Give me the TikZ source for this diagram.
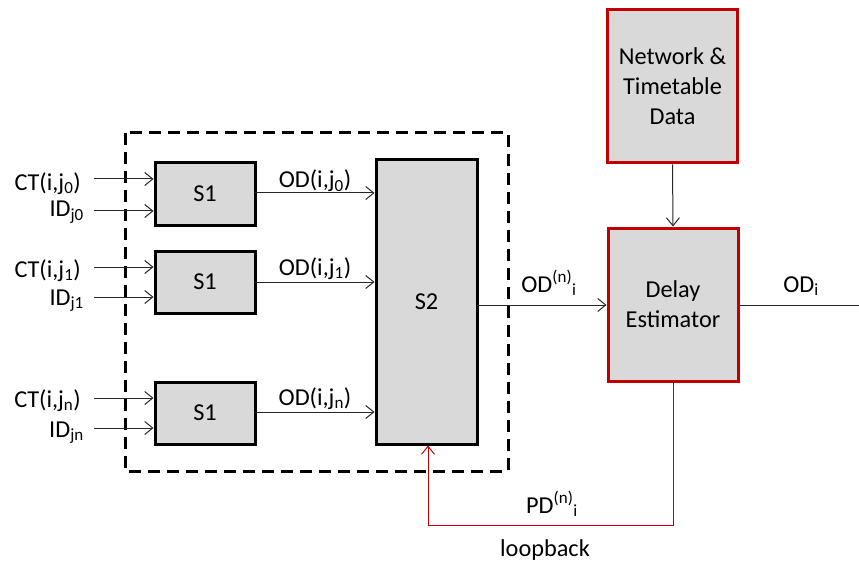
\documentclass[tikz,border=0pt]{standalone}
\usepackage{fontspec}
\setmainfont{Carlito}
\usetikzlibrary{arrows.meta}
\definecolor{boxgray}{HTML}{D9D9D9}
\definecolor{darkred}{HTML}{C00000}
\tikzset{
  blk/.style={draw=black, line width=3pt, fill=boxgray, inner sep=0pt},
  redblk/.style={draw=darkred, line width=3pt, fill=boxgray, inner sep=0pt, align=center},
  conn/.style={draw=black!85, line width=1pt, -{Straight Barb[length=8pt,width=13pt]}},
  plainconn/.style={draw=black!85, line width=1pt},
  loopconn/.style={draw=darkred, line width=1pt, -{Straight Barb[length=8pt,width=13pt]}},
  lbl/.style={inner sep=0pt},
}
\begin{document}
\begin{tikzpicture}[x=1pt,y=-1pt,font=\fontsize{24.3}{30}\selectfont]
\useasboundingbox (0,0) rectangle (859,564);
% dashed container
\draw[line width=3pt, dash pattern=on 12pt off 7pt] (125,133) rectangle (508,471);
% S1 boxes
\node[blk, minimum width=100pt, minimum height=62pt] (s1a) at (205,194) {S1};
\node[blk, minimum width=100pt, minimum height=62pt] (s1b) at (205,282) {S1};
\node[blk, minimum width=100pt, minimum height=62pt] (s1c) at (205,413) {S1};
% S2
\node[blk, minimum width=101pt, minimum height=284pt] (s2) at (426.5,302) {S2};
% Red boxes
\node[redblk, minimum width=130pt, minimum height=153pt] (net) at (672.5,86.5) {Network \&\\Timetable\\Data};
\node[redblk, minimum width=130pt, minimum height=153pt] (del) at (673,304.5) {Delay\\Estimator};
% input coordinates
\coordinate (ca) at (94,179); \coordinate (ia) at (94,211);
\coordinate (cb) at (94,267); \coordinate (ib) at (94,297);
\coordinate (cc) at (94,398); \coordinate (ic) at (94,428);
\draw[conn] (ca) -- (ca -| s1a.west);
\draw[conn] (ia) -- (ia -| s1a.west);
\draw[conn] (cb) -- (cb -| s1b.west);
\draw[conn] (ib) -- (ib -| s1b.west);
\draw[conn] (cc) -- (cc -| s1c.west);
\draw[conn] (ic) -- (ic -| s1c.west);
% input labels
\node[lbl, anchor=base east] (tca) at (81,190) {CT(i,j\textsubscript{0})};
\node[lbl, anchor=base east] (tia) at (84,217) {ID\textsubscript{j0}};
\node[lbl, anchor=base east] (tcb) at (81,277) {CT(i,j\textsubscript{1})};
\node[lbl, anchor=base east] (tib) at (84,305) {ID\textsubscript{j1}};
\node[lbl, anchor=base east] (tcc) at (81,407) {CT(i,j\textsubscript{n})};
\node[lbl, anchor=base east] (tic) at (84,437) {ID\textsubscript{jn}};
% S1 -> S2
\coordinate (oa) at (255,193); \coordinate (ob) at (255,282); \coordinate (oc) at (255,412);
\draw[conn] (oa) -- (oa -| s2.west);
\draw[conn] (ob) -- (ob -| s2.west);
\draw[conn] (oc) -- (oc -| s2.west);
\node[lbl, anchor=base] (toa) at (315,188) {OD(i,j\textsubscript{0})};
\node[lbl, anchor=base] (tob) at (315,275) {OD(i,j\textsubscript{1})};
\node[lbl, anchor=base] (toc) at (315,405) {OD(i,j\textsubscript{n})};
% S2 -> Delay
\coordinate (s2o) at (477,305);
\draw[conn] (s2o) -- (s2o -| del.west);
\node[lbl, anchor=base] (todn) at (549,292) {OD\textsuperscript{(n)}\textsubscript{i}};
% Network -> Delay
\draw[conn] (net.south) -- (del.north);
% Delay -> out
\coordinate (outend) at (859,305);
\draw[plainconn] (del.east |- outend) -- (outend);
\node[lbl, anchor=base] (todi) at (801,292) {OD\textsubscript{i}};
% loopback
\coordinate (lb1) at (673,525);
\coordinate (lb2) at (428,525);
\draw[loopconn] (del.south) -- (lb1) -- (lb2) -- (lb2 |- s2.south);
\node[lbl, anchor=base] (tpd) at (552,513) {PD\textsuperscript{(n)}\textsubscript{i}};
\node[lbl, anchor=base] (tloop) at (545,556) {loopback};
\end{tikzpicture}
\end{document}
